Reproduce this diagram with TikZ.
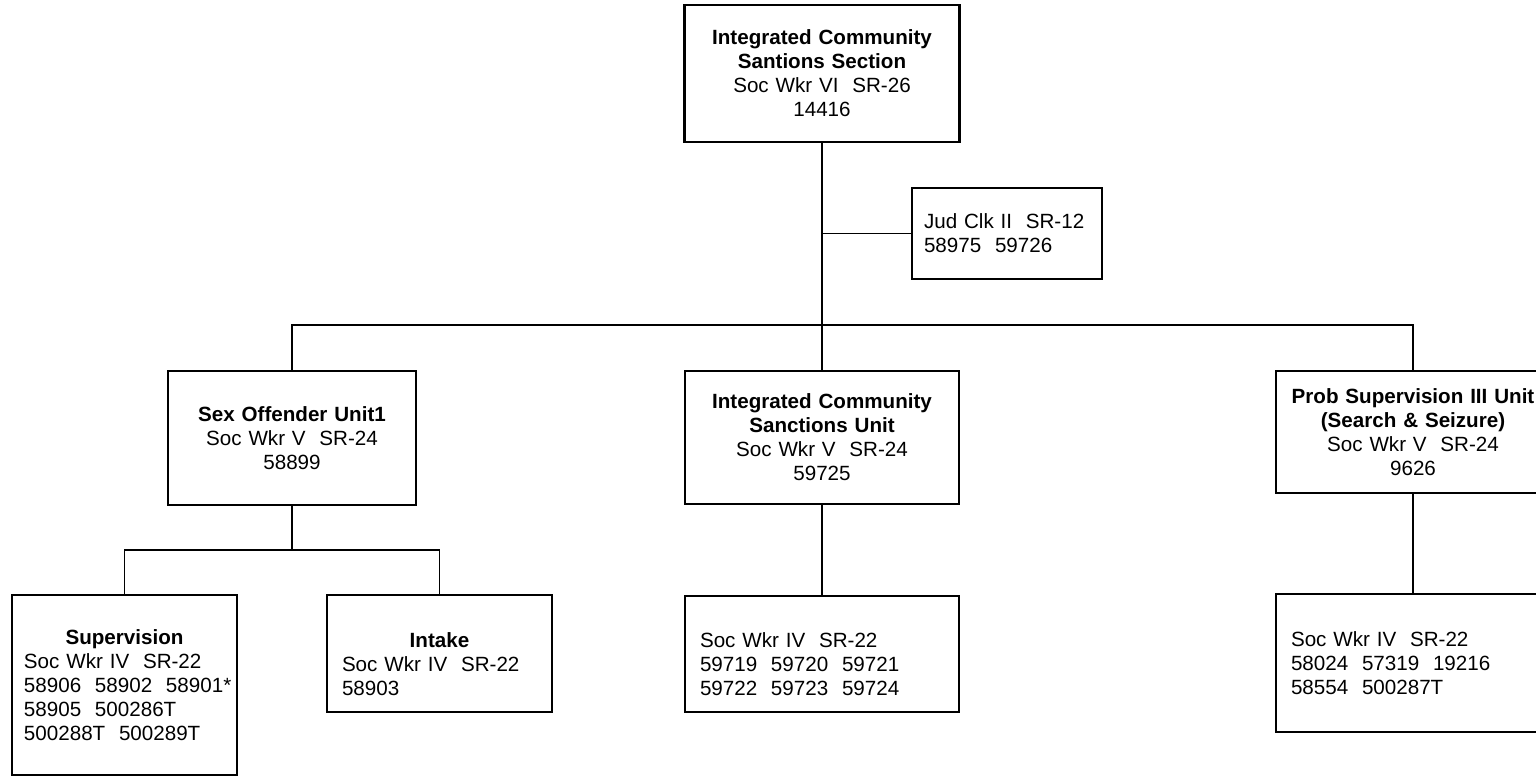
\documentclass[tikz,border=0pt]{standalone}
\usepackage{fontspec}
\setmainfont{Liberation Sans}
\begin{document}
\begin{tikzpicture}[x=0.5pt,y=-0.5pt,
    box/.style={draw, line width=1.1pt, inner xsep=7.5pt, align=center,
      font=\fontsize{10.3}{12}\selectfont},
    leaf/.style={box, align=left},
    link/.style={line width=0.9pt}]
  \useasboundingbox (0,0) rectangle (1536,777);
  \node[box, text width=122.5pt, minimum height=68.5pt] (section) at (822,73.5)
    {\textbf{Integrated Community}\\ \textbf{Santions Section}\\ Soc Wkr VI~~SR-26\\ 14416};
  \node[leaf, inner xsep=6pt, text width=83pt, minimum height=45.5pt] (jud) at (1007,233.5)
    {Jud Clk II~~SR\mbox{-}12\\ 58975~~59726};
  \coordinate (bus) at (0,325);
  \node[box, text width=109pt, minimum height=67pt] (sexoff) at (292,438)
    {\textbf{Sex Offender Unit1}\\ Soc Wkr V~~SR-24\\ 58899};
  \node[box, text width=122pt, minimum height=66.5pt] (icsunit) at (822,437.5)
    {\textbf{Integrated Community}\\ \textbf{Sanctions Unit}\\ Soc Wkr V~~SR-24\\ 59725};
  \node[box, text width=122pt, minimum height=61pt] (probunit) at (1413,432)
    {\textbf{Prob Supervision III Unit}\\ \textbf{(Search \& Seizure)}\\ Soc Wkr V~~SR-24\\ 9626};
  \coordinate (subbus) at (0,550);
  \node[leaf, inner xsep=6pt, text width=100.5pt, minimum height=90pt] (superv) at (124.5,685)
    {\makebox[\linewidth]{\textbf{Supervision}}\\ Soc Wkr IV~~SR-22\\ 58906~~58902~~58901*\\
     58905~~500286T\\ 500288T~~500289T};
  \node[leaf, text width=97.5pt, minimum height=58.5pt] (intake) at (439.5,653.5)
    {\rule{0pt}{18pt}\makebox[\linewidth]{\textbf{Intake}}\\ Soc Wkr IV~~SR-22\\ 58903};
  \node[leaf, text width=122pt, minimum height=58pt] (icsleaf) at (822,654)
    {\rule{0pt}{18pt}Soc Wkr IV~~SR-22\\ 59719~~59720~~59721\\ 59722~~59723~~59724};
  \node[leaf, text width=122pt, minimum height=69pt] (probleaf) at (1413,663)
    {Soc Wkr IV~~SR-22\\ 58024~~57319~~19216\\ 58554~~500287T};
  % connectors
  \draw[link] (section.south) -- (icsunit.north);
  \draw[link] (section.south |- jud.west) -- (jud.west);
  \draw[link] (sexoff.north) -- (sexoff.north |- bus) -- (probunit.north |- bus) -- (probunit.north);
  \draw[link] (sexoff.south) -- (sexoff.south |- subbus);
  \draw[link] (superv.north) -- (superv.north |- subbus) -- (intake.north |- subbus) -- (intake.north);
  \draw[link] (icsunit.south) -- (icsleaf.north);
  \draw[link] (probunit.south) -- (probleaf.north);
\end{tikzpicture}
\end{document}
